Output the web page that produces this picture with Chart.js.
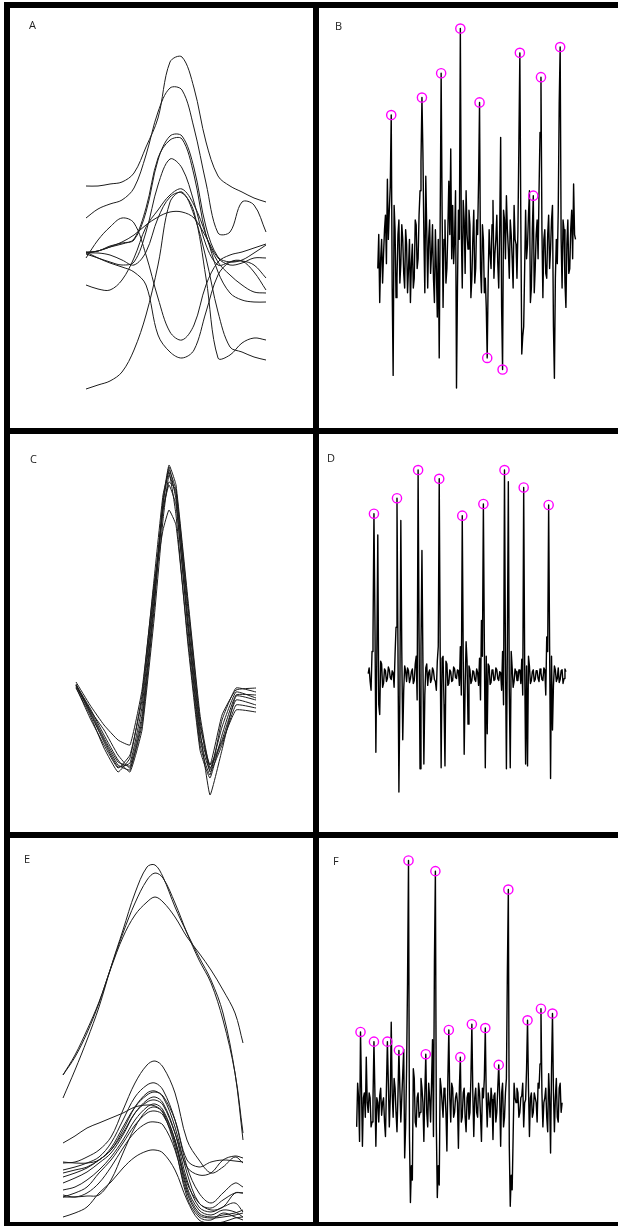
<!DOCTYPE html>
<html lang="en">
<head>
<meta charset="UTF-8">
<title>Spike panels</title>
<script src="https://cdn.jsdelivr.net/npm/chart.js@4.4.0/dist/chart.umd.min.js"></script>
<style>
  html, body { margin: 0; padding: 0; background: #fff; }
  #fig { position: relative; width: 618px; height: 1226px; overflow: hidden; background: #fff; }
  .panel { position: absolute; }
  .panel canvas { position: absolute; left: 0; top: 0; }
  .bar { position: absolute; background: #000; }
  .tag { position: absolute; font: 11px "Open Sans", sans-serif; color: #222; line-height: 15px; }
</style>
</head>
<body>
<div id="fig">
  <div class="panel" style="left:10px;top:8px"><canvas id="cA" width="303" height="420"></canvas></div>
  <div class="panel" style="left:319px;top:8px"><canvas id="cB" width="299" height="420"></canvas></div>
  <div class="panel" style="left:10px;top:434px"><canvas id="cC" width="303" height="398"></canvas></div>
  <div class="panel" style="left:319px;top:434px"><canvas id="cD" width="299" height="398"></canvas></div>
  <div class="panel" style="left:10px;top:838px"><canvas id="cE" width="303" height="384"></canvas></div>
  <div class="panel" style="left:319px;top:838px"><canvas id="cF" width="299" height="384"></canvas></div>

  <div class="bar" style="left:4px;top:2px;width:614px;height:6px"></div>
  <div class="bar" style="left:4px;top:2px;width:6px;height:1224px"></div>
  <div class="bar" style="left:313px;top:2px;width:6px;height:1224px"></div>
  <div class="bar" style="left:4px;top:428px;width:614px;height:6px"></div>
  <div class="bar" style="left:4px;top:832px;width:614px;height:6px"></div>
  <div class="bar" style="left:4px;top:1222px;width:614px;height:4px"></div>

  <div class="tag" style="left:29px;top:17px">A</div>
  <div class="tag" style="left:335px;top:18px">B</div>
  <div class="tag" style="left:30px;top:451px">C</div>
  <div class="tag" style="left:327px;top:450px">D</div>
  <div class="tag" style="left:24px;top:851px">E</div>
  <div class="tag" style="left:333px;top:853px">F</div>
</div>

<script>
// ---- panel A: overlaid waveforms (time in samples, amplitude in a.u.)
const tA = [86, 98, 110, 122, 134, 146, 158, 170, 182, 194, 206, 218, 230, 242, 254, 266];
const wavesA = [
  [66, 66, 68, 70, 79, 105, 134, 190, 195, 164, 110, 76, 66, 60, 54, 50],
  [34, 43, 48, 52, 64, 97, 140, 164, 162, 124, 69, 19, 20, 50, 47, 20],
  [0, 1, 6, 9, 12, 40, 92, 116, 116, 84, 25, -5, -10, -8, -1, 7],
  [-1, 1, 5, 8, 13, 44, 94, 112, 113, 77, 17, -10, -23, -33, -40, -41],
  [-2, -6, -10, -13, -10, 20, 67, 93, 84, 50, 7, -13, -10, -9, -13, -26],
  [-33, -37, -38, -28, -6, 25, 42, 57, 63, 47, 17, -20, -41, -48, -50, -50],
  [-1, 1, 5, 10, 17, 27, 35, 40, 40, 34, 15, -6, -13, -11, -6, -6],
  [-6, 12, 25, 34, 29, -3, -46, -80, -88, -73, -33, -10, -3, 0, 4, 8],
  [0, -6, -11, -15, -20, -33, -83, -100, -106, -98, -60, -23, -10, -9, -20, -38],
  [-137, -133, -129, -120, -98, -63, -13, 50, 60, 37, -6, -60, -95, -100, -105, -108],
  [-1, -1, -3, -8, -13, 0, 34, 55, 59, 40, -26, -106, -103, -91, -86, -88]
];

// ---- panel B: noisy recording, detected spikes (one value per sample)
const traceB = [
  -20, 15, -55, -10, 10, -35, -5, 20, 35, -15, 72, 10, 40, 65, 138, -40, -130, 45, 20, -50,
  -30, 15, 30, -35, -15, 25, 10, -25, -40, 20, 5, -45, -20, 10, -55, -15, 5, -40, -30, 30,
  25, -20, -10, 35, 60, 90, 156, 100, 15, -45, 75, 20, -40, 10, 30, -25, -5, 25, -30, -55,
  20, -20, -70, 10, -112, 30, 181, 40, -60, 10, 30, -35, -20, 20, 70, 15, 103, -10, 45, -15,
  10, 60, -143, -40, 40, 10, 227, 20, -40, 50, 30, -25, 60, 15, 0, 40, 25, -50, -30, 10,
  40, -35, -20, 30, 15, 70, 151, -20, -45, 25, 10, -45, -30, -60, -112, -30, 20, -5, -20, 25,
  50, -30, -5, 10, 35, -15, -40, 20, 115, -60, -124, 40, 30, -10, 55, 20, 0, -30, 30, 15,
  -10, -40, 45, 10, 5, -30, 20, 110, 202, 30, -108, -90, -80, -20, 40, -10, 5, 35, 60, -55,
  -40, 20, 55, -45, -20, 15, 30, -10, 60, 120, 177, 20, -50, 10, 20, -25, -30, 15, 35, -20,
  0, 30, 45, -80, -133, -30, 10, -15, 40, 150, 208, 10, -40, 30, 20, -35, -60, 5, 30, -25,
  -20, 20, 40, -10, 67, 15, 10
];
const spikesB = [14, 46, 66, 86, 106, 114, 130, 148, 162, 170, 190];

// ---- panel C: aligned waveforms of one unit
const tC = [76, 90, 104, 118, 130, 142, 154, 163, 169, 176, 188, 200, 210, 222, 236, 256];
const wavesC = [
  [15, -13, -42, -67, -63, -7, 107, 197, 233, 200, 70, -40, -70, -27, 8, 2],
  [15, -8, -35, -60, -72, -30, 80, 180, 225, 205, 90, -25, -65, -40, 0, -5],
  [12, -15, -48, -72, -58, 5, 120, 205, 228, 185, 55, -50, -78, -35, 5, 5],
  [18, -5, -25, -40, -45, 10, 115, 170, 190, 175, 60, -45, -75, -20, 12, 8],
  [14, -12, -40, -65, -70, -20, 95, 190, 218, 210, 95, -20, -72, -45, -5, -8],
  [16, -10, -38, -62, -66, -15, 100, 195, 230, 210, 80, -30, -95, -50, 4, 0],
  [13, -18, -45, -68, -55, 0, 110, 190, 215, 195, 75, -35, -65, -15, 10, 12],
  [15, -10, -30, -55, -68, -25, 90, 200, 235, 215, 100, -15, -68, -42, -10, -12]
];

// ---- panel D: clean recording, detected spikes
const traceD = [
  2, 8, -6, -15, 25, 40, 167, 60, -79, 20, 145, -30, -40, 15, 12, -12, -8, 7, 5, -6,
  -3, 9, 6, -2, -4, 5, 3, -12, 22, 50, 183, 30, -120, -20, 160, 25, -66, -15, 10, 5,
  -6, 8, 5, -7, -3, 4, 7, -8, -5, 12, 20, -25, 212, 40, -96, 30, 129, 15, -91, -20,
  8, 12, -10, 3, 6, -7, -4, 8, 5, -4, -6, -15, 15, 30, 203, 25, -95, 18, 20, -30,
  -93, 15, 12, -10, -8, 6, 4, -6, -5, 9, 7, -2, -3, 6, 5, -10, 30, -20, 165, 20,
  -81, -10, 35, 15, -50, 10, 6, -8, -5, 5, 4, -4, -6, 7, 3, -10, 18, -25, 57, 20,
  177, 35, -95, 20, -60, 12, 10, -9, -7, 6, 5, -5, -4, 8, 6, -3, -5, 4, 3, -15,
  25, -30, 212, 20, -96, 30, 200, -15, -95, 25, 8, -12, -6, 7, 4, -5, -5, 6, 6, -8,
  17, -20, 194, 15, -91, 10, -93, 20, 10, -8, -5, 4, 6, -6, -4, 5, 5, -3, -6, 7,
  3, -4, -5, 8, 6, -20, 40, 25, 176, 30, -106, 20, -56, -10, 10, 6, -6, -3, 8, -7,
  -4, 5, 6, -8, -3, 7, 4
];
const spikesD = [6, 30, 52, 74, 98, 120, 142, 162, 188];

// ---- panel E: waveforms of two units
const tE = [63, 75, 87, 99, 111, 123, 135, 147, 155, 163, 175, 187, 199, 211, 223, 235, 243];
const wavesE = [
  [72, 100, 130, 163, 203, 240, 277, 303, 305, 293, 263, 237, 213, 190, 157, 97, 30],
  [95, 113, 137, 167, 203, 237, 267, 290, 297, 292, 267, 237, 210, 187, 150, 97, 37],
  [95, 115, 140, 168, 202, 233, 255, 268, 273, 268, 253, 233, 217, 200, 180, 157, 127],
  [7, 8, 13, 20, 33, 60, 87, 105, 109, 103, 77, 30, 10, -3, 3, 13, 7],
  [0, 3, 7, 13, 27, 50, 73, 85, 87, 80, 50, 3, -23, -33, -23, -13, -17],
  [-7, -3, 2, 10, 20, 40, 63, 77, 79, 73, 43, -3, -33, -38, -30, -23, -23],
  [-13, -8, -2, 7, 17, 35, 57, 70, 73, 67, 37, -10, -37, -42, -37, -33, -42],
  [-20, -17, -10, 0, 13, 30, 50, 63, 66, 60, 30, -17, -40, -45, -40, -42, -47],
  [-27, -23, -17, -3, 10, 27, 45, 57, 59, 55, 27, -20, -43, -47, -45, -43, -40],
  [27, 34, 42, 47, 52, 57, 63, 65, 64, 58, 30, -13, -33, -40, -37, -23, -23],
  [-25, -27, -23, -13, 3, 22, 38, 47, 48, 45, 20, -23, -45, -48, -47, -45, -43],
  [-47, -43, -37, -23, -12, 2, 13, 19, 20, 17, 0, -30, -50, -53, -52, -48, -47],
  [-27, -27, -26, -25, -10, 17, 43, 60, 63, 57, 23, -27, -47, -50, -43, -47, -50],
  [8, 7, 7, 10, 22, 43, 63, 75, 78, 74, 50, 10, 3, 8, 10, 9, 8],
  [-3, 0, 3, 10, 20, 37, 57, 68, 70, 65, 37, 3, -5, -3, 10, 14, 12]
];

// ---- panel F: mixed recording, detected spikes
const traceF = [
  -20, 25, 10, -35, 78, 20, -40, 10, 15, -10, 52, 5, -5, 15, 10, -20, -15, 8, 68, 15,
  -40, 10, 5, -15, 12, 20, -8, 5, 10, -15, -30, 20, 68, 25, -20, 10, 88, 15, -10, 30,
  20, -5, -25, 12, 59, 20, -15, 10, 35, 60, -52, -20, 40, 130, 255, -30, -98, -60, -75, 40,
  30, -15, -20, 10, 15, -10, -5, 30, 20, 5, -35, 15, 55, -5, -20, 25, 10, -15, 25, 70,
  -30, 150, 244, -20, -93, -60, -80, 30, 20, 5, -10, 20, 15, -5, -45, 30, 80, 10, -15, 25,
  20, -10, -5, 10, 15, 5, -42, 20, 52, -15, -10, 15, 20, -10, -25, 10, 15, -12, -5, 30,
  86, 15, -30, 10, 20, -5, -10, 25, 15, -8, -35, 20, 10, 30, 82, 10, -20, 15, 5, -10,
  20, 8, -33, 12, 15, -15, -5, 20, 44, 10, -40, 15, 25, -20, -10, 15, 30, 140, 225, -40,
  -102, -70, -85, -30, 25, 10, 5, 20, 15, -10, -5, 10, 12, 25, -20, 5, 8, 40, 90, 20,
  -30, 10, 15, -10, -5, 15, 10, 5, -15, 25, 20, 45, 102, 15, -20, 5, 10, 20, -10, -25,
  35, 10, -47, 40, 97, 15, -25, 10, 30, -10, -15, 20, 25, -5, 5
];
const spikesF = [4, 18, 32, 44, 54, 72, 82, 96, 108, 120, 134, 148, 158, 178, 192, 204];

const INK = '#1c1c1c';

function waveSets(times, waves, tension) {
  return waves.map(w => ({
    data: w.map((v, i) => ({ x: times[i], y: v })),
    borderColor: INK,
    borderWidth: 1,
    borderJoinStyle: 'round',
    tension: tension,
    pointRadius: 0,
    fill: false
  }));
}

function traceSets(trace, spikes) {
  return [
    {
      data: spikes.map(i => ({ x: i, y: trace[i] })),
      showLine: false,
      pointRadius: 4.6,
      pointBorderWidth: 1.4,
      pointBorderColor: '#ff00ff',
      pointBackgroundColor: 'rgba(0,0,0,0)',
      order: -1
    },
    {
      data: trace.map((v, i) => ({ x: i, y: v })),
      borderColor: '#000',
      borderWidth: 1.4,
      borderJoinStyle: 'round',
      pointRadius: 0,
      fill: false
    }
  ];
}

function draw(id, datasets, xr, yr) {
  return new Chart(document.getElementById(id), {
    type: 'line',
    data: { datasets },
    options: {
      responsive: false,
      animation: false,
      events: [],
      layout: { padding: 0 },
      plugins: { legend: { display: false }, tooltip: { enabled: false } },
      scales: {
        x: { type: 'linear', min: xr[0], max: xr[1], display: false },
        y: { type: 'linear', min: yr[0], max: yr[1], display: false }
      }
    }
  });
}

draw('cA', waveSets(tA, wavesA, 0.35), [10, 313], [-176, 244]);
draw('cB', traceSets(traceB, spikesB), [-55, 244], [-178, 242]);
draw('cC', waveSets(tC, wavesC, 0.12), [10, 313], [-132, 266]);
draw('cD', traceSets(traceD, spikesD), [-45, 254], [-155, 243]);
draw('cE', waveSets(tE, wavesE, 0.35), [10, 313], [-52, 332]);
draw('cF', traceSets(traceF, spikesF), [-33, 266], [-112, 272]);
</script>
</body>
</html>
